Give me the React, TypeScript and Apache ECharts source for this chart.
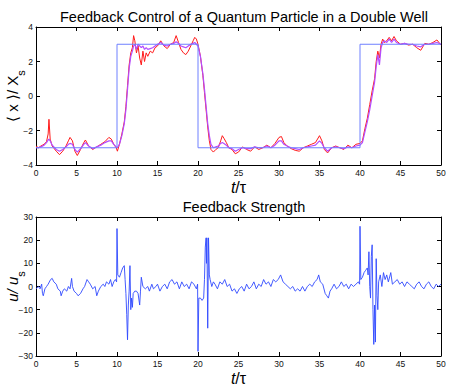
import React, { useEffect, useRef } from "react";
import * as echarts from "echarts";

const xTicks = [0, 5, 10, 15, 20, 25, 30, 35, 40, 45, 50];

const targetTimes = [0, 10, 10, 20, 20, 40, 40, 50];
const targetValues = [-3, -3, 3, 3, -3, -3, 3, 3];

const topTimes = [0,0.3,0.6,1,1.3,1.5,1.6,1.75,2,2.5,2.9,3.3,3.7,4,4.2,4.5,4.8,5.1,5.5,5.9,6.1,6.5,7,7.5,8,8.5,9,9.3,9.6,9.9,10.05,
10.3,10.6,10.9,11.1,11.3,11.5,11.7,11.9,12.05,12.2,12.4,12.6,12.8,13,13.2,13.4,13.6,13.8,14.1,14.4,14.7,15,15.4,15.8,16.2,16.6,17,17.3,17.6,17.9,18.2,18.5,18.8,19.1,19.4,19.6,19.8,20,
20.3,20.6,20.8,21,21.2,21.4,21.6,21.9,22.2,22.5,22.8,23,23.2,23.5,23.8,24.2,24.6,25,25.5,26,26.5,27,27.5,28,28.5,29,29.5,30,30.3,30.6,31,31.5,32,32.5,33,33.5,34,34.5,35,35.3,35.6,36,36.5,37,37.5,38,38.5,39,39.5,40,
40.3,40.6,40.9,41.2,41.5,41.8,42,42.2,42.4,42.6,42.8,43,43.3,43.6,43.9,44.2,44.5,45,45.5,46,46.5,47,47.5,48,48.5,49,49.5,50];

const redValues = [-2.9,-3.0,-2.9,-2.8,-2.65,-2.2,-1.35,-2.5,-2.9,-3.2,-3.4,-3.2,-2.9,-2.6,-2.4,-2.6,-3.2,-3.45,-3.1,-2.7,-2.55,-2.9,-3.1,-2.95,-2.8,-2.65,-2.4,-2.5,-2.8,-3.0,-3.2,
-2.8,-2.2,-1.5,-0.6,0.6,1.8,2.5,2.8,3.5,3.2,2.5,2.9,2.2,1.8,2.6,2.0,2.5,2.3,2.6,2.5,2.8,2.9,3.2,2.9,2.75,3.0,3.1,3.5,3.1,2.7,2.5,2.4,2.6,2.9,3.2,3.4,3.3,3.0,
2.3,1.2,0.2,-0.8,-1.8,-2.6,-3.1,-3.25,-3.1,-3.0,-2.6,-2.3,-2.45,-2.7,-3.0,-3.1,-3.35,-3.25,-2.95,-3.1,-3.2,-2.95,-3.1,-3.0,-2.85,-3.0,-2.75,-2.4,-2.35,-2.7,-2.9,-3.05,-3.15,-3.2,-3.0,-2.9,-2.8,-2.7,-2.3,-2.6,-3.1,-3.3,-3.0,-2.9,-3.0,-3.1,-2.85,-3.0,-2.8,-2.75,
-2.6,-1.9,-1.3,-0.5,0.3,1.0,2.0,2.6,2.2,3.0,3.3,3.1,3.2,3.4,3.2,3.45,3.2,3.0,3.05,2.95,3.0,2.8,2.65,3.05,3.0,3.1,3.25,2.95];

const magentaValues = [-3.0,-3.0,-2.95,-2.85,-2.7,-2.55,-2.5,-2.6,-2.85,-3.1,-3.2,-3.1,-2.95,-2.8,-2.75,-2.8,-3.1,-3.25,-3.05,-2.8,-2.7,-2.9,-3.05,-2.95,-2.85,-2.7,-2.6,-2.6,-2.8,-2.95,-3.0,
-2.8,-2.3,-1.6,-0.8,0.4,1.6,2.3,2.6,2.9,3.0,2.7,3.0,2.9,2.8,2.9,2.7,2.8,2.7,2.75,2.8,2.9,3.0,3.1,2.95,2.9,3.0,3.05,3.15,3.05,2.9,2.85,2.8,2.9,3.0,3.05,3.1,3.0,2.9,
2.3,1.3,0.4,-0.6,-1.6,-2.3,-2.8,-3.0,-2.95,-2.9,-2.75,-2.7,-2.75,-2.85,-3.0,-3.05,-3.2,-3.1,-3.0,-3.05,-3.05,-2.95,-3.0,-3.0,-2.9,-3.0,-2.85,-2.6,-2.6,-2.8,-2.9,-3.0,-3.05,-3.1,-3.0,-2.95,-2.9,-2.85,-2.6,-2.75,-3.0,-3.2,-3.0,-2.95,-3.0,-3.05,-2.95,-3.0,-2.9,-2.85,
-2.7,-2.1,-1.5,-0.8,0.0,0.8,1.7,2.4,1.8,2.8,3.1,3.2,3.1,3.3,3.1,3.3,3.1,3.0,3.05,3.0,3.0,2.9,2.85,3.0,3.0,3.05,3.1,3.0];

const uTimes = [0,0.3,0.5,0.7,0.8,0.9,1.1,1.3,1.5,1.8,2.0,2.2,2.5,2.7,3.0,3.1,3.3,3.5,3.8,4.0,4.2,4.4,4.5,4.7,5.0,5.2,5.5,5.8,6.0,6.3,6.5,6.7,7.0,7.3,7.5,7.7,8.0,8.3,8.5,8.7,9.0,9.2,9.4,9.6,9.8,9.95,
10.0,10.1,10.3,10.5,10.7,10.9,11.0,11.1,11.2,11.3,11.4,11.5,11.6,11.7,11.8,11.9,12.0,12.2,12.4,12.6,12.8,12.9,13.0,13.2,13.5,13.8,14.0,14.3,14.5,14.8,15.0,15.3,15.6,15.9,16.2,16.5,16.8,17.1,17.4,17.7,18.0,18.3,18.6,18.9,19.2,19.5,19.8,19.95,
20.0,20.1,20.3,20.5,20.7,20.8,20.9,21.0,21.05,21.1,21.2,21.3,21.4,21.5,21.7,21.9,22.1,22.4,22.7,23.0,23.3,23.6,23.9,24.2,24.5,24.8,25.1,25.4,25.7,26.0,26.3,26.6,26.9,27.2,27.5,27.8,28.1,28.4,28.7,29.0,29.3,29.6,29.9,30.2,30.5,30.8,31.1,31.4,31.7,32.0,32.3,32.6,32.9,33.2,33.5,33.8,34.1,34.4,34.7,34.9,35.1,35.4,35.7,35.9,36.1,36.3,36.5,36.8,37.1,37.4,37.7,38.0,38.3,38.6,38.9,39.2,39.5,39.8,39.95,
40.0,40.1,40.3,40.5,40.7,40.9,41.0,41.1,41.2,41.3,41.4,41.5,41.6,41.7,41.8,41.9,42.0,42.1,42.2,42.3,42.5,42.7,42.9,43.1,43.3,43.5,43.8,44.0,44.3,44.6,44.9,45.2,45.5,45.8,46.1,46.4,46.7,47.0,47.3,47.6,47.9,48.2,48.5,48.8,49.1,49.4,49.7,50];

const uValues = [-1,0,-1,1,-3,-4,-1,0,1,3,3.5,2,1,-1,-2,-4,-2,-1,-2,0,-1,3.5,0,-2,-3,-4,-3,-1,0,3,2,1,-1,0,-4,-2,0,1,0,2,1,3,0,2,3,2,
25,5,4,6,8,9,3,-3,-12,-23,-8,-2,9,-10,-5,-9,-3,-2,-2,-3,-8,-2,4,0,-1,0,-2,1,-1,0,1,-2,0,1,-1,2,3,1,2,-1,2,0,1,-1,2,1,-1,1,
-28,-5,-5,-6,-5,3,17,21,10,21,-18,21,5,3,0,2,1,-1,2,1,3,0,1,-2,-1,-3,-1,0,-2,1,-1,0,2,-1,1,0,3,1,2,0,3,2,3,5,2,1,0,-1,0,-2,-1,-2,0,-2,0,1,0,2,3,5,2,1,-3,-4,-5,-2,-1,1,-1,0,2,0,1,-1,1,0,1,2,1,
26,3,4,6,7,8,5,15,0,-5,13,18,-10,-25,-8,-24,12,-4,-10,2,5,0,6,3,5,2,6,1,2,3,1,2,0,2,1,0,-1,1,2,0,-1,1,2,0,-1,1,0,1];

const FONT = "'Liberation Sans', Arial, Helvetica, sans-serif";
const minus = (v: number) => String(v).replace("-", "\u2212");

const baseX = (gridIndex: number) => ({
  type: "value" as const,
  gridIndex,
  min: 0,
  max: 50,
  interval: 5,
  axisLine: { show: true, onZero: false, lineStyle: { color: "#000", width: 1 } },
  axisTick: { show: true, inside: true, length: 4, lineStyle: { color: "#000" } },
  splitLine: { show: false },
});

const baseY = (gridIndex: number, min: number, max: number, interval: number) => ({
  type: "value" as const,
  gridIndex,
  min,
  max,
  interval,
  axisLine: { show: true, onZero: false, lineStyle: { color: "#000", width: 1 } },
  axisTick: { show: true, inside: true, length: 4, lineStyle: { color: "#000" } },
  splitLine: { show: false },
});

const labelStyle = { color: "#111", fontSize: 8.5, fontFamily: FONT };

export default function App() {
  const ref = useRef<HTMLDivElement>(null);
  useEffect(() => {
    if (!ref.current) return;
    const chart = echarts.init(ref.current, undefined, { renderer: "svg" });
    const xName = {
      name: "{i|t}{n|/\u03c4}",
      nameLocation: "middle" as const,
      nameGap: 14,
      nameMoveOverlap: false,
      nameTextStyle: {
        rich: {
          i: { fontSize: 16, fontStyle: "italic", fontFamily: FONT, color: "#000" },
          n: { fontSize: 16, fontFamily: FONT, color: "#000" },
        },
      },
    };
    chart.setOption({
      animation: false,
      backgroundColor: "#fff",
      title: [
        {
          text: "Feedback Control of a Quantum Particle in a Double Well",
          left: 239,
          top: 4,
          textAlign: "center",
          textStyle: { fontSize: 14.5, fontWeight: "normal", fontFamily: FONT, color: "#000" },
        },
        {
          text: "Feedback Strength",
          left: 239,
          top: 194,
          textAlign: "center",
          textStyle: { fontSize: 14.5, fontWeight: "normal", fontFamily: FONT, color: "#000" },
        },
      ],
      grid: [
        { left: 36, top: 27, width: 405, height: 138, outerBoundsMode: "none", containLabel: false },
        { left: 36, top: 217, width: 405, height: 139, outerBoundsMode: "none", containLabel: false },
      ],
      xAxis: [
        { ...baseX(0), position: "bottom", axisLabel: { ...labelStyle, margin: 3, formatter: (v: number) => (xTicks.includes(v) ? String(v) : "") }, ...xName },
        { ...baseX(0), position: "top", axisLabel: { show: false } },
        { ...baseX(1), position: "bottom", axisLabel: { ...labelStyle, margin: 3 }, ...xName },
        { ...baseX(1), position: "top", axisLabel: { show: false } },
      ],
      yAxis: [
        {
          ...baseY(0, -4, 4, 2),
          position: "left",
          axisLabel: { ...labelStyle, margin: 3, formatter: minus },
          name: "{a|\u27e8 x \u27e9/ X}{s|s}",
          nameLocation: "middle",
          nameRotate: 90,
          nameGap: 10,
          nameMoveOverlap: false,
          nameTextStyle: {
            rich: {
              a: { fontSize: 15, fontFamily: FONT, color: "#000", lineHeight: 28, verticalAlign: "middle" },
              s: { fontSize: 11, fontFamily: FONT, color: "#000", lineHeight: 11, verticalAlign: "bottom" },
            },
          },
        },
        { ...baseY(0, -4, 4, 2), position: "right", axisLabel: { show: false } },
        {
          ...baseY(1, -30, 30, 10),
          position: "left",
          axisLabel: { ...labelStyle, margin: 3, formatter: minus },
          name: "{a|u/ u}{s|s}",
          nameLocation: "middle",
          nameRotate: 90,
          nameGap: 10,
          nameMoveOverlap: false,
          nameTextStyle: {
            rich: {
              a: { fontSize: 15, fontStyle: "italic", fontFamily: FONT, color: "#000", lineHeight: 28, verticalAlign: "middle" },
              s: { fontSize: 11, fontFamily: FONT, color: "#000", lineHeight: 11, verticalAlign: "bottom" },
            },
          },
        },
        { ...baseY(1, -30, 30, 10), position: "right", axisLabel: { show: false } },
      ],
      series: [
        {
          type: "line",
          xAxisIndex: 0,
          yAxisIndex: 0,
          data: topTimes.map((t, i) => [t, redValues[i]]),
          showSymbol: false,
          lineStyle: { color: "#ff1a1a", width: 1 },
        },
        {
          type: "line",
          xAxisIndex: 0,
          yAxisIndex: 0,
          data: topTimes.map((t, i) => [t, magentaValues[i]]),
          showSymbol: false,
          lineStyle: { color: "#b44cff", width: 1.2 },
        },
        {
          type: "line",
          xAxisIndex: 0,
          yAxisIndex: 0,
          data: targetTimes.map((t, i) => [t, targetValues[i]]),
          showSymbol: false,
          lineStyle: { color: "#6f80ff", width: 1 },
        },
        {
          type: "line",
          xAxisIndex: 2,
          yAxisIndex: 2,
          data: uTimes.map((t, i) => [t, uValues[i]]),
          showSymbol: false,
          lineStyle: { color: "#2f48ff", width: 0.9 },
        },
      ],
    });
    return () => chart.dispose();
  }, []);
  return <div ref={ref} style={{ width: 450, height: 388, position: "absolute", left: 0, top: 0 }} />;
}
